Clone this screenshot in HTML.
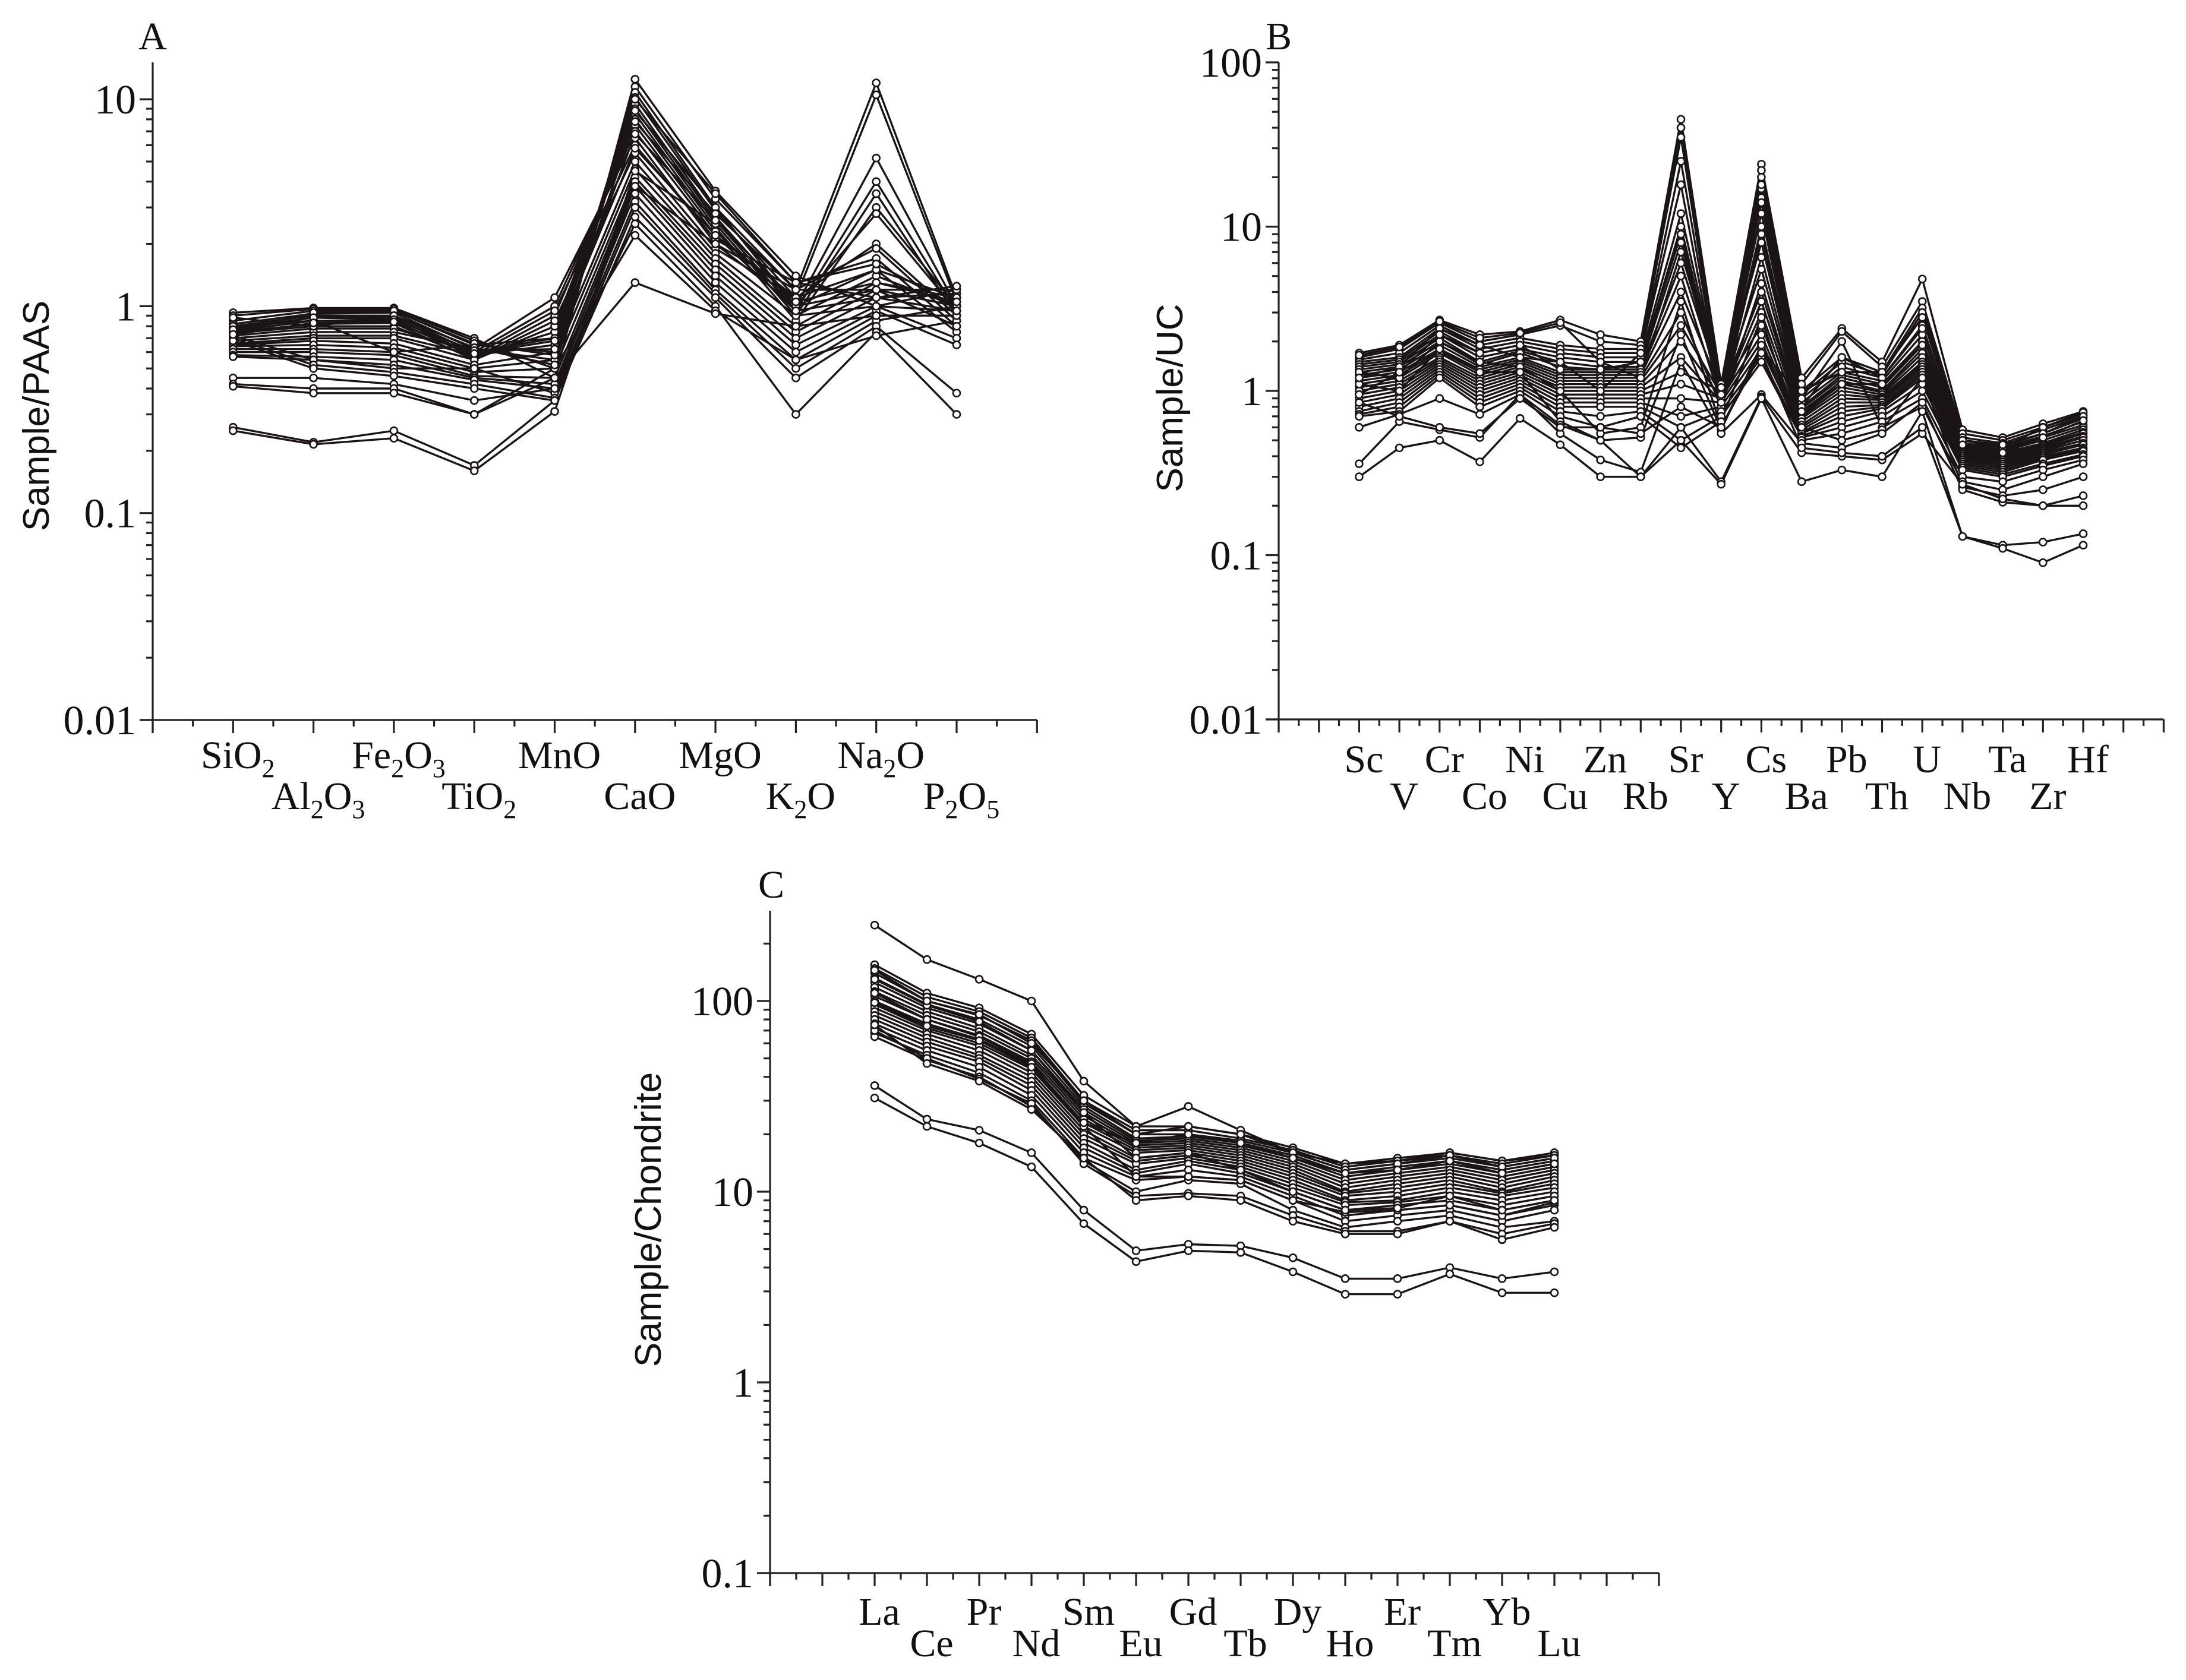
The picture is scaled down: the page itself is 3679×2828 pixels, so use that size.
<!DOCTYPE html>
<html><head><meta charset="utf-8">
<style>
html,body{margin:0;padding:0;background:#fff;}
svg{display:block;}
text{font-family:"Liberation Serif",serif;fill:#111;}
.yt{font-family:"Liberation Sans",sans-serif;}
</style></head>
<body>
<svg id="fig" width="3679" height="2828" viewBox="0 0 3679 2828" xmlns="http://www.w3.org/2000/svg">
<rect width="3679" height="2828" fill="#fff"/>
<text x="257" y="83" font-size="66" text-anchor="middle">A</text>
<text x="2152" y="83" font-size="66" text-anchor="middle">B</text>
<text x="1298" y="1511" font-size="66" text-anchor="middle">C</text>
<text class="yt" transform="translate(82,700) rotate(-90)" font-size="62" text-anchor="middle">Sample/PAAS</text>
<text class="yt" transform="translate(1990,670) rotate(-90)" font-size="62" text-anchor="middle">Sample/UC</text>
<text class="yt" transform="translate(1112,2053) rotate(-90)" font-size="62" text-anchor="middle">Sample/Chondrite</text>
</svg>
<script>
// ---------- Panel A data (Sample/PAAS) ----------
const aCategories = ["SiO2","Al2O3","Fe2O3","TiO2","MnO","CaO","MgO","K2O","Na2O","P2O5"];
const aTickLabels = ["0.01","0.1","1","10"];
const aSamples = [
[0.93,0.98,0.98,0.70,0.45,12.5,3.6,1.4,1.0,1.2],
[0.90,0.97,0.97,0.68,0.50,11.5,3.3,1.3,1.1,1.15],
[0.85,0.95,0.95,0.65,0.60,10.8,3.0,1.2,12.0,1.1],
[0.82,0.92,0.93,0.62,0.55,10.2,2.9,1.1,10.5,1.05],
[0.80,0.90,0.90,0.60,0.70,9.5,2.7,1.0,5.2,1.0],
[0.78,0.88,0.88,0.58,0.65,9.0,2.6,0.95,4.0,0.95],
[0.76,0.85,0.85,0.57,0.75,8.5,2.5,0.9,3.5,0.9],
[0.75,0.82,0.83,0.55,0.80,8.0,2.4,0.85,3.0,1.0],
[0.74,0.80,0.80,0.56,0.90,7.5,2.3,1.0,2.8,0.95],
[0.72,0.78,0.78,0.60,1.00,7.0,2.2,1.1,2.0,0.9],
[0.70,0.75,0.75,0.62,1.10,6.5,2.0,1.2,1.9,0.85],
[0.68,0.72,0.72,0.58,0.95,6.0,2.1,1.3,1.7,0.8],
[0.66,0.70,0.70,0.55,0.85,5.5,1.9,1.1,1.5,0.75],
[0.65,0.68,0.66,0.52,0.60,5.0,1.8,0.9,1.4,1.0],
[0.64,0.65,0.63,0.50,0.55,4.6,1.7,0.8,1.3,1.1],
[0.62,0.62,0.60,0.48,0.50,4.2,1.6,0.75,1.2,1.2],
[0.60,0.60,0.58,0.46,0.45,4.0,1.5,0.7,1.1,1.25],
[0.58,0.57,0.55,0.45,0.42,3.8,1.4,0.65,1.0,0.7],
[0.57,0.55,0.52,0.44,0.40,3.5,1.3,0.6,0.95,0.65],
[0.72,0.55,0.50,0.50,0.38,3.2,1.2,0.55,0.9,0.9],
[0.70,0.52,0.48,0.42,0.36,3.0,1.15,0.50,0.85,1.0],
[0.68,0.50,0.46,0.40,0.35,2.7,1.1,0.45,0.80,0.38],
[0.45,0.45,0.42,0.35,0.40,2.5,1.0,0.3,0.75,0.30],
[0.42,0.40,0.40,0.30,0.50,2.2,0.95,0.55,0.72,0.85],
[0.41,0.38,0.38,0.30,0.45,1.3,0.92,0.8,0.9,0.9],
[0.26,0.22,0.25,0.17,0.35,3.8,2.0,1.0,1.2,1.0],
[0.25,0.215,0.23,0.16,0.31,4.5,2.5,0.9,1.0,0.95],
[0.80,0.85,0.60,0.65,0.70,8.8,3.0,1.0,1.5,1.1],
[0.75,0.93,0.95,0.66,0.58,7.8,2.8,1.2,1.2,0.8],
[0.88,0.80,0.90,0.63,0.52,10.0,3.5,1.3,1.6,1.0],
[0.77,0.88,0.86,0.61,0.62,6.8,2.6,1.05,1.3,1.05],
[0.73,0.83,0.84,0.59,0.68,5.8,2.2,0.95,1.1,0.95]
];
// ---------- Panel B data (Sample/UC) ----------
const bCategories = ["Sc","V","Cr","Co","Ni","Cu","Zn","Rb","Sr","Y","Cs","Ba","Pb","Th","U","Nb","Ta","Zr","Hf"];
const bTickLabels = ["0.01","0.1","1","10","100"];
const bSamples = [
[1.7,1.9,2.7,2.2,2.3,2.7,2.2,2.0,45,1.1,24,1.2,2.4,1.5,4.8,0.58,0.52,0.63,0.75],
[1.6,1.8,2.6,2.0,2.2,2.5,2.0,1.9,40,1.0,22,1.1,2.3,1.4,3.5,0.55,0.50,0.60,0.72],
[1.55,1.7,2.5,1.9,2.1,1.9,1.8,1.8,35,0.95,20,1.0,1.6,1.3,3.2,0.52,0.48,0.58,0.70],
[1.5,1.6,2.4,1.8,2.0,1.8,1.7,1.7,18,0.9,17,0.95,1.5,1.25,3.0,0.50,0.46,0.55,0.68],
[1.45,1.55,2.3,1.7,1.9,1.7,1.6,1.6,12,1.0,15,0.9,1.4,1.2,2.5,0.48,0.45,0.53,0.65],
[1.4,1.5,2.2,1.6,1.8,1.6,1.5,1.5,10,0.95,12,0.85,1.3,1.15,2.2,0.47,0.44,0.52,0.62],
[1.35,1.45,2.1,1.5,1.75,1.5,1.4,1.4,8,0.9,10,0.8,1.25,1.1,2.0,0.46,0.43,0.50,0.60],
[1.3,1.4,2.0,1.45,1.7,1.4,1.35,1.35,6,1.05,8,0.78,1.2,1.05,1.9,0.45,0.42,0.48,0.58],
[1.25,1.35,1.9,1.4,1.6,1.3,1.3,1.3,5,0.85,6.5,0.75,1.15,1.0,1.8,0.44,0.41,0.47,0.56],
[1.2,1.3,1.8,1.35,1.55,1.25,1.25,1.25,4,1.0,5.5,0.72,1.1,0.98,1.7,0.43,0.40,0.46,0.55],
[1.15,1.25,1.75,1.3,1.5,1.2,1.2,1.2,3,0.8,4.5,0.70,1.05,0.95,1.6,0.42,0.39,0.45,0.53],
[1.1,1.2,1.7,1.25,1.45,1.15,1.15,1.15,2.5,0.95,4,0.68,1.0,0.92,1.5,0.41,0.38,0.44,0.52],
[1.05,1.15,1.6,1.2,1.4,1.1,1.1,1.1,2,0.9,3.5,0.65,0.95,0.9,1.45,0.40,0.37,0.43,0.50],
[1.0,1.1,1.55,1.15,1.35,1.05,1.05,1.05,1.6,0.85,3,0.62,0.9,0.88,1.4,0.39,0.36,0.42,0.48],
[0.95,1.05,1.5,1.1,1.3,1.0,1.0,1.0,1.3,1.0,2.5,0.60,0.85,0.85,1.35,0.38,0.35,0.41,0.47],
[0.9,1.0,1.45,1.05,1.25,0.95,0.95,0.95,1.1,0.9,2.2,0.58,0.8,0.82,1.3,0.37,0.34,0.40,0.45],
[0.85,0.95,1.4,1.0,1.2,0.9,0.9,0.9,0.9,0.85,2.0,0.56,0.75,0.8,1.25,0.36,0.33,0.39,0.44],
[0.8,0.9,1.35,0.95,1.15,0.85,0.85,0.85,0.7,0.8,1.8,0.55,0.7,0.78,1.2,0.35,0.32,0.38,0.43],
[0.75,0.85,1.3,0.9,1.1,0.8,0.8,0.8,0.6,0.75,1.6,0.53,0.65,0.75,1.1,0.34,0.31,0.36,0.41],
[0.72,0.8,1.25,0.85,1.05,0.75,0.7,0.75,0.5,0.7,1.5,0.52,0.6,0.7,1.0,0.33,0.30,0.35,0.40],
[0.7,0.75,1.2,0.8,1.0,0.7,0.6,0.7,0.45,0.65,2.8,0.5,0.55,0.65,0.9,0.30,0.28,0.33,0.38],
[1.3,1.2,2.0,1.5,1.4,1.0,0.55,0.6,3.5,0.6,1.8,0.9,2.0,0.6,0.8,0.28,0.25,0.30,0.36],
[1.1,1.0,1.8,1.3,1.3,0.65,0.5,0.52,2.2,0.58,1.9,0.6,0.5,0.58,1.2,0.26,0.23,0.25,0.30],
[0.6,0.72,0.9,0.72,0.95,0.55,0.38,0.32,1.5,0.55,0.95,0.48,0.45,0.55,0.85,0.25,0.21,0.20,0.23],
[0.36,0.65,0.58,0.52,0.95,0.62,0.5,0.3,0.6,0.28,0.92,0.42,0.4,0.38,0.55,0.27,0.22,0.20,0.20],
[0.3,0.45,0.5,0.37,0.68,0.47,0.3,0.3,0.5,0.27,0.9,0.28,0.33,0.3,0.75,0.13,0.115,0.12,0.135],
[0.85,0.7,0.6,0.55,0.9,0.6,0.6,0.55,0.8,0.6,1.7,0.45,0.42,0.4,0.6,0.13,0.11,0.09,0.115],
[1.65,1.85,2.65,2.1,2.25,2.6,1.5,1.2,7,1.05,18,1.0,1.3,1.3,2.8,0.5,0.45,0.6,0.74],
[1.2,1.4,2.4,1.9,1.6,1.5,1.0,1.7,25,0.95,14,0.8,1.6,1.2,2.4,0.5,0.47,0.55,0.7],
[0.95,1.3,2.2,1.7,1.9,1.35,1.35,1.5,9,0.85,9,0.75,1.1,1.1,1.9,0.47,0.42,0.52,0.66]
];
// ---------- Panel C data (Sample/Chondrite) ----------
const cCategories = ["La","Ce","Pr","Nd","Sm","Eu","Gd","Tb","Dy","Ho","Er","Tm","Yb","Lu"];
const cTickLabels = ["0.1","1","10","100"];
const cSamples = [
[250,165,130,100,38,22,28,21,16,14,14.5,16,14.5,15.5],
[155,110,92,67,32,22,22,20,17,14,15,16,14.5,16],
[148,105,88,64,30,21,21,19,16.5,13.5,14.5,15.5,14,15.5],
[140,100,84,62,29,20,20,18.5,16,13,14,15,13.5,15],
[132,96,80,58,28,19,19.5,18,15.5,12.5,13.5,14.5,13,14.5],
[125,92,76,55,27,18.5,19,17.5,15,12,13,14,12.5,14],
[118,88,72,52,26,18,18.5,17,14.5,11.5,12.5,13.5,12,13.5],
[112,84,69,50,25,17.5,18,16.5,14,11,12,13,11.5,13],
[106,80,66,48,24,17,17.5,16,13.5,10.5,11.5,12.5,11,12.5],
[100,76,63,46,23,16.5,17,15.5,13,10,11,12,10.5,12],
[96,72,60,44,22,16,16.5,15,12.5,9.8,10.5,11.5,10,11.5],
[92,70,58,42,21,15,16,14.5,12,9.5,10,11,9.8,11],
[88,67,55,40,20,14.5,15.5,14,11.5,9,9.5,10.5,9.5,10.5],
[84,64,52,38,19,14,15,13.5,11,8.8,9,10,9,10],
[80,61,50,36,18,13,14.5,13,10.5,8.5,8.8,9.5,8.5,9.5],
[76,58,48,34,17,12.5,14,12.5,10,8,8.5,9,8,9],
[72,55,45,32,16,12,13,12,9.5,7.5,8,8.5,7.5,8.5],
[68,52,42,30,15,11.5,12,11.5,9,7,7.5,8,7,8],
[65,49,40,28,14.5,10,11.5,11,8,6.5,7,7.5,6.5,7],
[70,50,39,29,14,9.5,9.8,9.5,7.5,6.2,6.2,7,6,6.8],
[75,47,38,27,15,9,9.5,9,7,6,6,7,5.6,6.5],
[110,80,65,47,22,12,12,11.5,9,7.8,8,8.5,7.5,8.8],
[130,95,78,55,26,15,16,13,10,8,8.2,9.5,8,9],
[145,100,85,60,30,20,22,20,16,13,14,15.5,13.5,15],
[98,74,62,45,23,18,20,18,15,12.5,13,14.5,12.5,14],
[36,24,21,16,8,4.9,5.3,5.2,4.5,3.5,3.5,4.0,3.5,3.8],
[31,22,18,13.5,6.8,4.3,4.9,4.8,3.8,2.9,2.9,3.7,2.95,2.95]
];

const NS = "http://www.w3.org/2000/svg";
const svg = document.getElementById("fig");
function mk(tag, attrs, parent) {
  const e = document.createElementNS(NS, tag);
  for (const k in attrs) e.setAttribute(k, attrs[k]);
  (parent || svg).appendChild(e);
  return e;
}
function addLabel(g, txt, x, y, name) {
  const t = mk("text", {x: x, y: y, "font-size": 66, "text-anchor": "middle"}, g);
  
  
  const parts = txt.match(/[A-Za-z]+|\d+/g);
  parts.forEach(p => {
    const s = document.createElementNS(NS, "tspan");
    s.textContent = p;
    if (/^\d+$/.test(p)) { s.setAttribute("font-size", "44"); s.setAttribute("dy", "15"); }
    else if (t.childNodes.length) { s.setAttribute("dy", "-15"); }
    t.appendChild(s);
  });
}

function drawPanel(cfg, categories, tickLabels, samples) {
  const g = mk("g", {});
  
  
  const yScale = v => cfg.y0 - (Math.log10(v) - cfg.minExp) * cfg.dec;
  const xScale = i => cfg.x0 + (i + cfg.startUnit) * cfg.unit;
  const axW = 3.2;
  const ya = mk("line", {x1: cfg.x0, y1: cfg.top, x2: cfg.x0, y2: cfg.y0 + 22, stroke: "#222", "stroke-width": axW}, g);
  
  
  const xa = mk("line", {x1: cfg.x0 - 22, y1: cfg.y0, x2: cfg.x0 + cfg.units * cfg.unit, y2: cfg.y0, stroke: "#222", "stroke-width": axW}, g);
  
  
  for (let k = 0; k < tickLabels.length; k++) {
    const e = cfg.minExp + k;
    const y = yScale(Math.pow(10, e));
    mk("line", {x1: cfg.x0 - 22, y1: y, x2: cfg.x0, y2: y, stroke: "#222", "stroke-width": axW}, g);
    const t = mk("text", {x: cfg.x0 - 28, y: y + 24, "font-size": 70, "text-anchor": "end"}, g);
    t.textContent = tickLabels[k];
    
    
    for (let m = 2; m <= 9; m++) {
      const ym = yScale(m * Math.pow(10, e));
      if (ym < cfg.top) break;
      mk("line", {x1: cfg.x0 - 11, y1: ym, x2: cfg.x0, y2: ym, stroke: "#222", "stroke-width": axW}, g);
    }
  }
  for (let u = 0; u <= cfg.units * 2; u++) {
    const x = cfg.x0 + u * cfg.unit / 2;
    const len = (u % 2 === 0) ? 22 : 11;
    mk("line", {x1: x, y1: cfg.y0, x2: x, y2: cfg.y0 + len, stroke: "#222", "stroke-width": axW}, g);
  }
  categories.forEach((c, i) => {
    addLabel(g, c, xScale(i) + 8, i % 2 ? cfg.row2 : cfg.row1, "x-label-" + c.toLowerCase());
  });
  const sg = mk("g", {}, g);
  
  
  samples.forEach((s, si) => {
    const pts = s.map((v, i) => xScale(i).toFixed(1) + "," + yScale(v).toFixed(1)).join(" ");
    const pl = mk("polyline", {points: pts, fill: "none", stroke: "#1a1414", "stroke-width": 3.4}, sg);
    
    
  });
  samples.forEach((s, si) => {
    s.forEach((v, i) => {
      const c = mk("circle", {cx: xScale(i), cy: yScale(v), r: 6, fill: "#fff", stroke: "#1a1414", "stroke-width": 2.6}, sg);
      
      
    });
  });
}

drawPanel({name: "panel-a-chart", x0: 257, y0: 1212, top: 105, dec: 348.3, minExp: -2, unit: 135.3, startUnit: 1, units: 11, row1: 1293, row2: 1362}, aCategories, aTickLabels, aSamples);
drawPanel({name: "panel-b-chart", x0: 2152, y0: 1211, top: 105, dec: 276.5, minExp: -2, unit: 67.7, startUnit: 2, units: 22, row1: 1300, row2: 1362}, bCategories, bTickLabels, bSamples);
drawPanel({name: "panel-c-chart", x0: 1296, y0: 2648, top: 1533, dec: 321, minExp: -1, unit: 88, startUnit: 2, units: 17, row1: 2735, row2: 2788}, cCategories, cTickLabels, cSamples);
</script>
</body></html>
